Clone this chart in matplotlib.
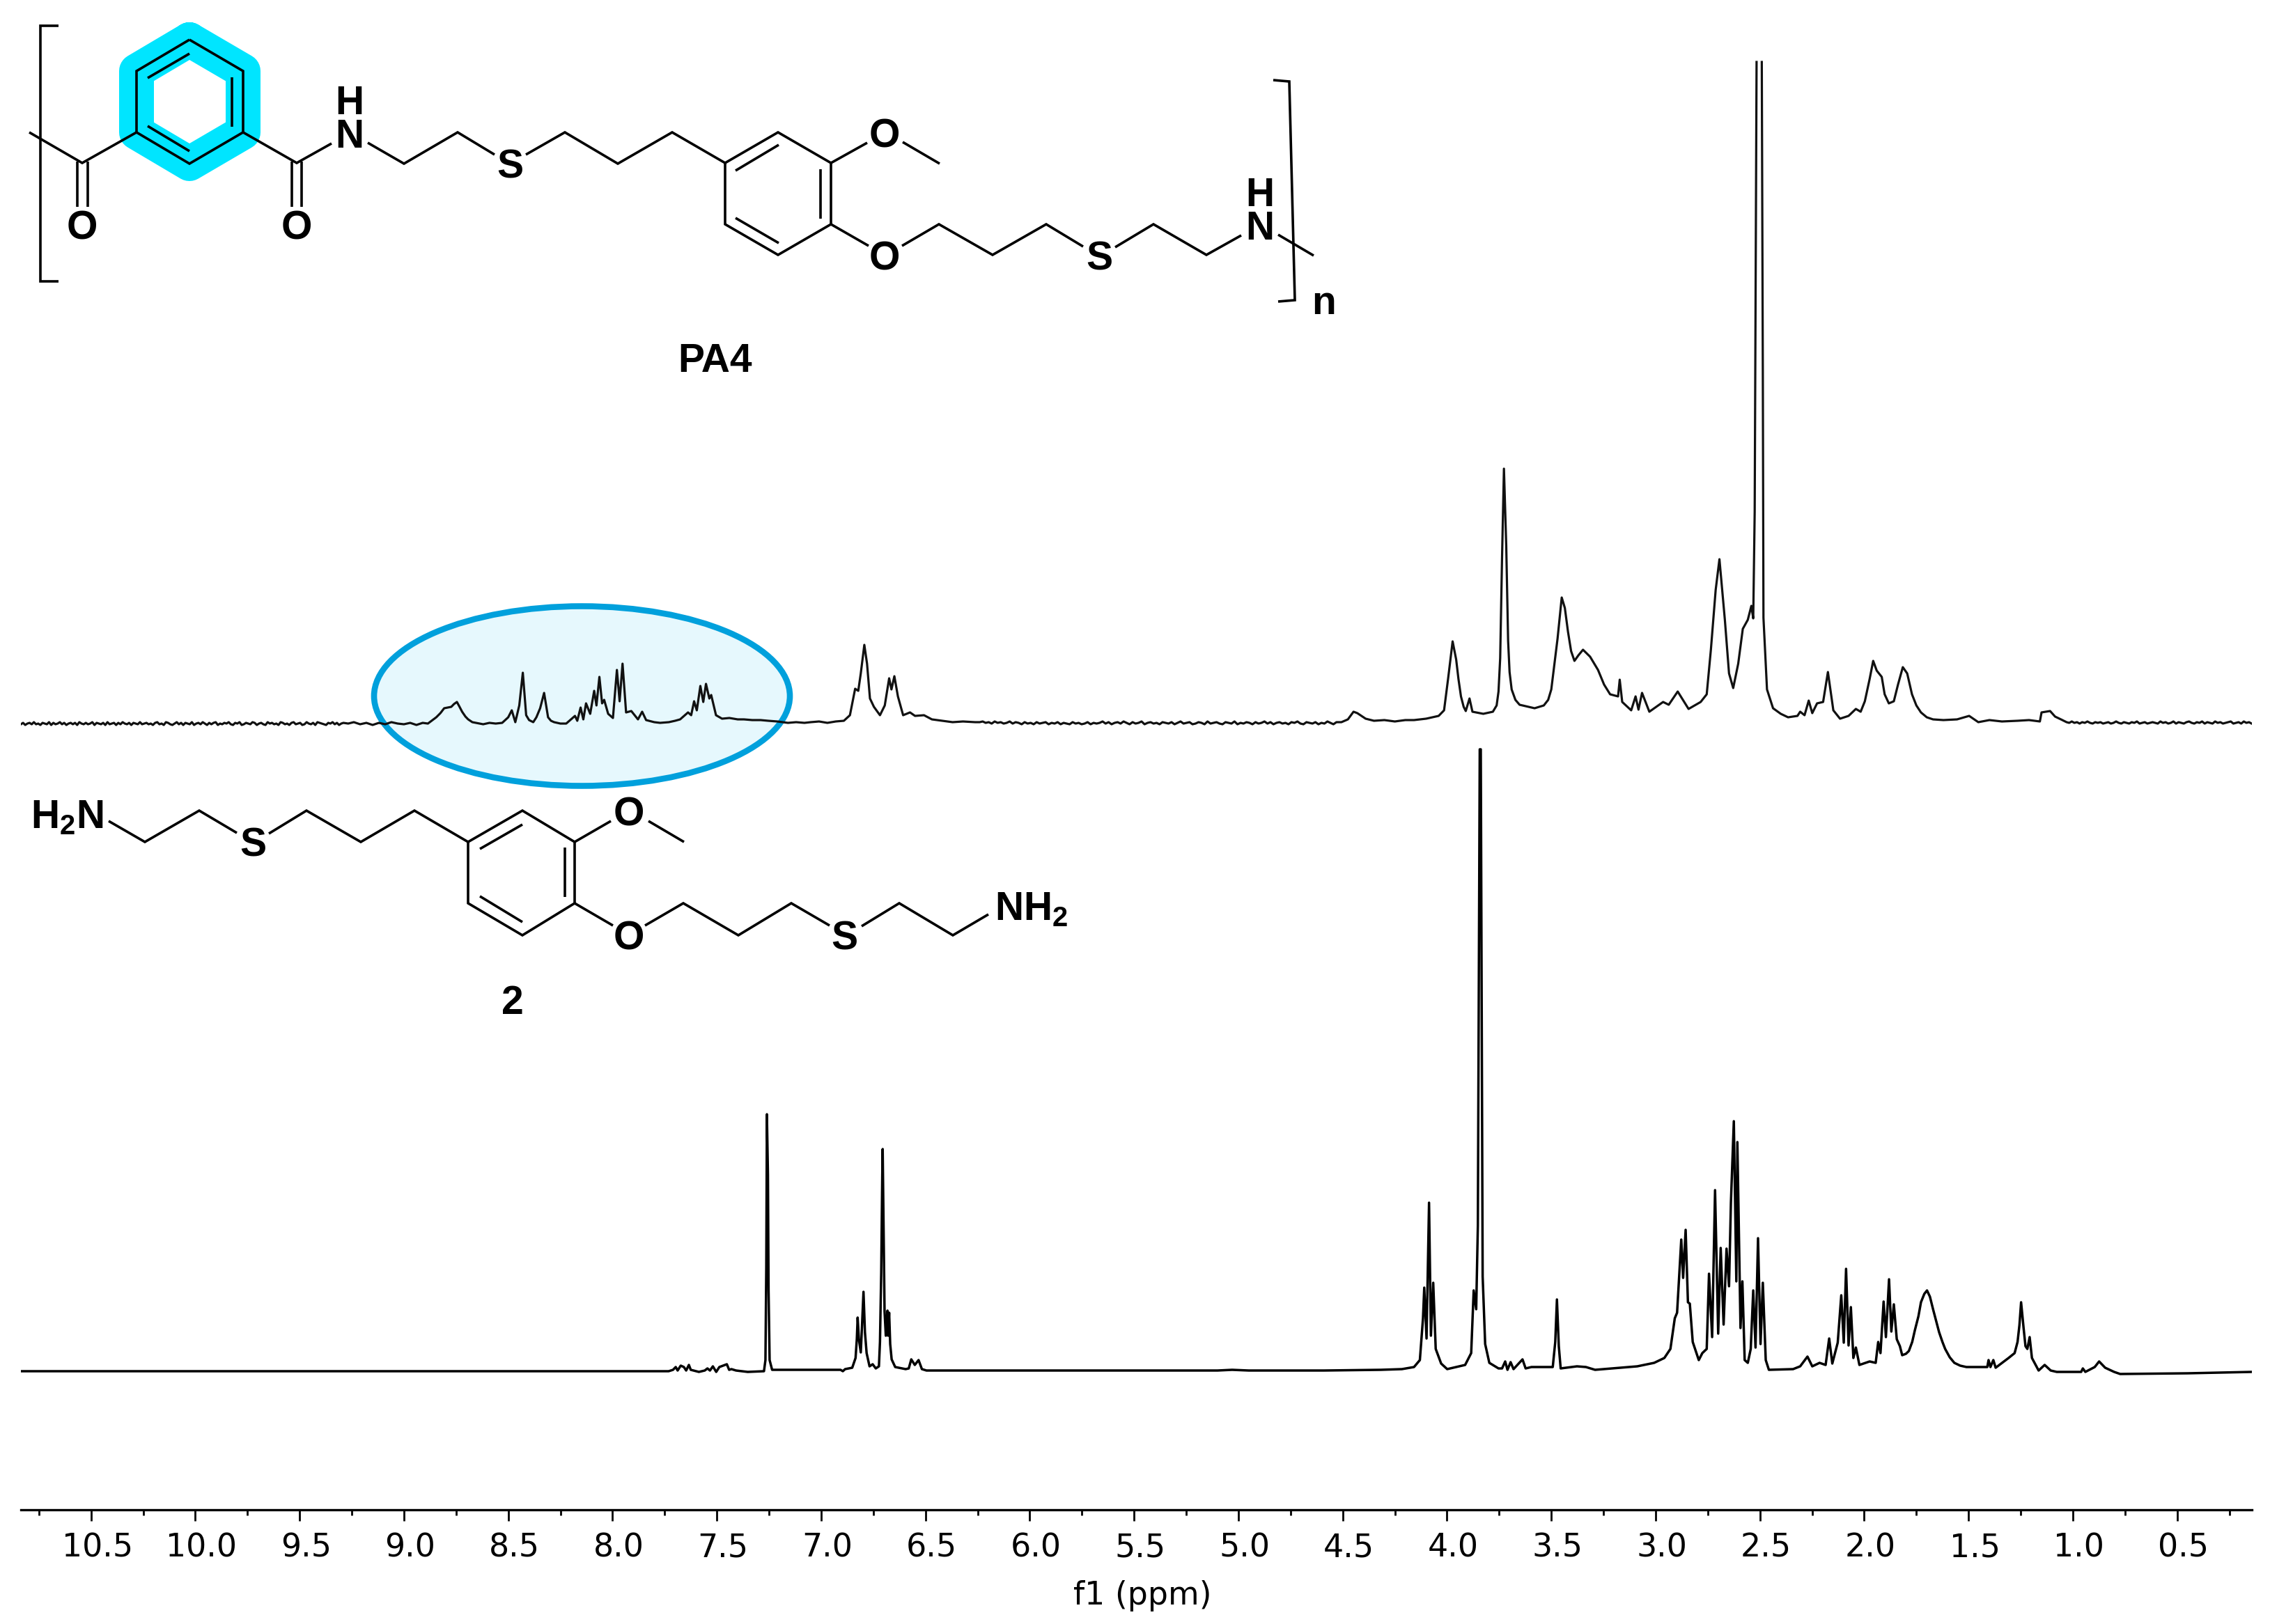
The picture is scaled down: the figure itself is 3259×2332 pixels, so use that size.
#!/usr/bin/env python3
"""1H NMR stack: PA4 (top) and diamine 2 (bottom), with the two structures drawn on top."""

import numpy as np
import matplotlib
matplotlib.use("Agg")
import matplotlib.pyplot as plt
from matplotlib.patches import Ellipse
from matplotlib.ticker import MultipleLocator
from matplotlib.transforms import ScaledTranslation

W, H = 3259, 2332
DPI = 100

# --- spectra. heights are in image pixels above each baseline ---
# PA4, flat noisy stretches (ppm positions are an even grid over the stretch)
top_noise_left = [-1, 1, -2, 0, 1, -1, 2, -1, 0, -2, 1, 0, -1, 2, -2, 1, -1, 0, 2, -1,
                  1, -2, 0, 1, -1, 1, -2, 2, 0, -1, 1, -1, 0, 2, -2, 1, 0, -1, 1, -2,
                  2, -1, 0, 1, -2, 1, -1, 2, 0, -1, 1, -2, 1, 0, -1, 2, -1, 0, 1, -1,
                  0, -2, 1, 2, -1, 0, -2, 2, 1, -1, -2, 0, 2, -1, 1, -2, 1, 0, -1, 2,
                  -2, 0, 1, -1, 2, 0, -2, 1, -1, 1, 2, -2, 0, -1, 1, 0, 2, -1, -2, 1,
                  0, 2, -2, -1, 1, 0, -1, 2, 1, -2, 0, 1, -1, -2, 2, 0, 1, -1, 0, -2,
                  2, 1, -1, 0, -2, 1, 2, -1, 0, 1, -2, -1, 2, 0, -1, 1, -2, 2, 1, 0,
                  -1, -2, 1, 0, 2, -1, 1, -2, 0, 1]
top_noise_mid = [2, 3, 1, 2, 0, 3, 1, 2, 0, 1, 3, 0, 2, 1, -1, 2, 0, 1, -1, 2,
                 0, 1, 2, -1, 1, 0, 2, -1, 1, 0, -1, 2, 0, 1, -1, 0, 2, -1, 1, 0,
                 1, 3, 0, 2, -1, 1, 2, 0, 3, 1, -1, 2, 0, 1, 3, -1, 1, 2, 0, 1,
                 -1, 2, 1, 0, 2, -1, 1, 3, 0, 1, 2, -1, 0, 2, 1, -1, 3, 0, 1, 2,
                 0, -1, 2, 1, 0, 3, -1, 1, 0, 2, 1, -1, 2, 0, 1, 3, 0, 2, -1, 1,
                 2, 0, 1, -1, 2, 1, 3, 0, -1, 2, 1, 0, 2, -1, 1, 0, 3, 1, -1, 2]
top_noise_right = [-2, -3, -1, -3, -2, -4, -2, -3, -1, -3, -4, -2, -3, -2, -4, -3, -2, -4, -3, -1,
                   -3, -4, -2, -3, -4, -2, -3, -1, -4, -3, -2, -4, -3, -2, -3, -4,
                   -1, -3, -2, -4, -3, -1, -4, -2, -3, -4, -2, -1, -3, -4, -2, -3, -1, -4,
                   -2, -3, -4, -1, -3, -2, -4, -3, -2, -1, -4, -3, -2, -4, -1, -3, -2, -4]

# PA4, aromatic amide region (baseline y=1039 px)
top_arom_ppm = [9.267, 9.24, 9.21, 9.18, 9.15, 9.12, 9.09, 9.06, 9.03, 9.00, 8.97, 8.94, 8.91, 8.885, 8.845,
                8.825, 8.807, 8.79, 8.773, 8.76, 8.746, 8.735, 8.721, 8.705, 8.692, 8.672, 8.654, 8.62, 8.59, 8.56,
                8.529, 8.50, 8.483, 8.466, 8.447, 8.43, 8.414, 8.40, 8.38, 8.365, 8.347, 8.328, 8.309, 8.295, 8.28,
                8.25, 8.222, 8.203, 8.18, 8.169, 8.153, 8.14, 8.127, 8.107, 8.088, 8.077, 8.063, 8.05, 8.04, 8.021,
                7.998, 7.979, 7.966, 7.952, 7.935, 7.91, 7.878, 7.858, 7.839, 7.80, 7.772, 7.73, 7.70, 7.676, 7.638,
                7.623, 7.609, 7.596, 7.579, 7.565, 7.552, 7.536, 7.527, 7.504, 7.475, 7.44, 7.40, 7.37, 7.33, 7.29,
                7.254, 7.21, 7.159, 7.12, 7.08, 7.05, 7.01, 6.97, 6.93, 6.891, 6.862, 6.837, 6.822, 6.81, 6.793,
                6.78, 6.766, 6.747, 6.718, 6.695, 6.674, 6.663, 6.649, 6.632, 6.607, 6.574, 6.55, 6.507, 6.469,
                6.42, 6.37, 6.32, 6.262]
top_arom_h = [0, 2, -1, 1, -2, 1, -1, 2, 0, -1, 1, -2, 1, 0, 9,
              15, 22, 23, 24, 28, 31, 25, 17, 10, 6, 2, 1, -1, 1, 0,
              1, 9, 19, 2, 26, 73, 12, 5, 2, 9, 22, 44, 9, 4, 2,
              0, 0, 5, 11, 4, 23, 6, 29, 14, 47, 26, 67, 29, 34, 14,
              8, 77, 32, 86, 16, 18, 6, 17, 5, 2, 1, 2, 4, 6, 16,
              12, 32, 19, 54, 31, 57, 36, 41, 12, 7, 8, 6, 6, 5, 5,
              4, 3, 1, 2, 1, 2, 3, 1, 3, 4, 12, 50, 47, 72, 113,
              86, 36, 24, 12, 26, 65, 49, 68, 39, 12, 16, 11, 12, 6,
              4, 2, 3, 2]

# PA4, aliphatic region (baseline y=1035 px); the DMSO peak runs off the scale, hence the gap
top_alip_ppm = [4.506, 4.475, 4.448, 4.43, 4.39, 4.35, 4.30, 4.25, 4.20, 4.158, 4.10, 4.04, 4.014, 3.994, 3.973, 3.956,
                3.945, 3.933, 3.92, 3.91, 3.892, 3.878, 3.826, 3.78, 3.762, 3.753, 3.745, 3.736, 3.727, 3.716, 3.707,
                3.70, 3.69, 3.672, 3.652, 3.58, 3.536, 3.515, 3.50, 3.47, 3.45, 3.435, 3.42, 3.405, 3.389, 3.37, 3.348,
                3.314, 3.276, 3.247, 3.218, 3.18, 3.172, 3.16, 3.117, 3.096, 3.082, 3.065, 3.03, 2.964, 2.937, 2.894,
                2.842, 2.784, 2.755, 2.735, 2.712, 2.694, 2.668, 2.648, 2.628, 2.604, 2.582,
                2.558, 2.541, 2.532, 2.525, 2.516, np.nan, 2.491, 2.486, 2.483, 2.466, 2.437, 2.40, 2.365,
                2.32, 2.307, 2.286, 2.266, 2.249, 2.226, 2.197, 2.174, 2.148, 2.116, 2.075, 2.04,
                2.017, 1.997, 1.974, 1.957, 1.94, 1.916, 1.902, 1.882, 1.858, 1.838, 1.815, 1.794,
                1.771, 1.75, 1.728, 1.70, 1.67, 1.62, 1.555, 1.497, 1.453, 1.40, 1.34, 1.265, 1.21, 1.158, 1.15,
                1.13, 1.109, 1.085, 1.057]
top_alip_h = [-2, 2, 13, 11, 3, 0, 1, -1, 1, 1, 3, 7, 15, 62, 114, 88,
              60, 35, 20, 14, 32, 13, 10, 13, 22, 42, 90, 235, 362, 252, 115,
              70, 45, 30, 23, 18, 22, 30, 45, 118, 177, 162, 128, 100, 86, 94, 102,
              92, 73, 52, 38, 35, 59, 27, 15, 35, 16, 40, 13, 27, 23, 42,
              17, 27, 38, 102, 188, 232, 145, 68, 47, 82, 132,
              145, 165, 147, 300, 946, np.nan, 946, 500, 148, 45, 18, 10, 5,
              7, 13, 8, 29, 11, 25, 27, 70, 15, 3, 7, 17,
              13, 28, 60, 86, 72, 63, 38, 25, 28, 52, 77, 68,
              38, 22, 12, 5, 2, 1, 2, 7, -2, 1, -1, 0, 1, -1, 12,
              13, 14, 6, 2]

# diamine 2, aromatic region + CHCl3 (baseline y=1970 px)
bot_arom_ppm = [10.836, 9.5, 8.5, 7.931, 7.731, 7.71, 7.697, 7.688, 7.673, 7.658, 7.647, 7.634, 7.625, 7.586,
                7.558, 7.545, 7.533, 7.519, 7.503, 7.488, 7.452, 7.441, 7.43, 7.408, 7.352, 7.274,
                7.267, 7.263, 7.26, 7.255, 7.252, 7.247, 7.235, 6.907, 6.896, 6.885, 6.851, 6.835,
                6.829, 6.825, 6.819, 6.81, 6.804, 6.797, 6.79, 6.782, 6.768, 6.753, 6.738, 6.723,
                6.718, 6.712, 6.707, 6.705, 6.70, 6.696, 6.69, 6.682, 6.679, 6.674, 6.669, 6.662,
                6.645, 6.595, 6.58, 6.568, 6.551, 6.533, 6.517, 6.495, 6.262]
bot_arom_h = [1, 1, 1, 1, 1, 3, 7, 2, 9, 7, 2, 10, 3, 0,
              2, 5, 2, 8, 0, 7, 11, 3, 4, 2, 0, 1,
              17, 150, 370, 283, 117, 17, 3, 3, 1, 4, 6, 20,
              47, 78, 47, 28, 67, 115, 57, 27, 8, 11, 5, 8,
              43, 143, 283, 320, 187, 87, 52, 88, 52, 85, 40, 18,
              7, 4, 5, 18, 10, 17, 4, 2, 2]

# diamine 2, aliphatic region (baseline y=1970 px)
bot_alip_ppm = [5.10, 5.03, 4.95, 4.59, 4.318, 4.216, 4.158, 4.13, 4.115, 4.109, 4.098, 4.086, 4.077, 4.066, 4.054,
                4.028, 3.999, 3.913, 3.884, 3.872, 3.86, 3.852, 3.843, 3.838, 3.829, 3.817, 3.797,
                3.753, 3.736, 3.721, 3.71, 3.695, 3.681, 3.638, 3.623, 3.595, 3.493, 3.481, 3.473,
                3.464, 3.455, 3.377, 3.334, 3.29, 3.088, 3.007, 2.958, 2.929, 2.908, 2.897, 2.877,
                2.868, 2.856, 2.845, 2.836, 2.822, 2.793, 2.776, 2.755, 2.744, 2.729, 2.715, 2.70,
                2.688, 2.674, 2.66, 2.648, 2.639, 2.625, 2.613, 2.608, 2.593, 2.584, 2.573, 2.558,
                2.544, 2.532, 2.521, 2.509, 2.497, 2.486, 2.472, 2.457, 2.341, 2.307, 2.272, 2.249,
                2.214, 2.185, 2.168, 2.153, 2.127, 2.11, 2.098, 2.087, 2.075, 2.064, 2.052, 2.04,
                2.023, 1.974, 1.945, 1.933, 1.922, 1.907, 1.896, 1.881, 1.87, 1.858, 1.844, 1.829,
                1.818, 1.80, 1.786, 1.77, 1.757, 1.74, 1.728, 1.712, 1.699, 1.685, 1.67, 1.655, 1.641, 1.625, 1.612,
                1.59, 1.568, 1.54, 1.51, 1.41, 1.404,
                1.395, 1.381, 1.37, 1.308, 1.279, 1.265, 1.256, 1.248, 1.236, 1.227, 1.218, 1.207,
                1.196, 1.164, 1.135, 1.106, 1.077, 0.96, 0.952, 0.94, 0.895, 0.874, 0.845, 0.802,
                0.773, 0.45, 0.143]
bot_alip_h = [2, 3, 2, 2, 3, 4, 7, 17, 77, 121, 48, 243, 52, 128, 33,
              12, 4, 10, 27, 117, 90, 210, 894, 894, 137, 40, 13,
              5, 5, 15, 3, 14, 4, 18, 5, 7, 7, 43, 104,
              37, 5, 8, 7, 3, 8, 13, 20, 33, 77, 85, 190,
              135, 204, 100, 98, 43, 17, 27, 33, 141, 50, 261, 55,
              178, 68, 177, 123, 243, 360, 130, 330, 63, 130, 17, 13,
              33, 117, 35, 192, 40, 128, 17, 3, 4, 8, 22, 8,
              13, 10, 48, 12, 42, 110, 42, 148, 38, 93, 20, 35,
              10, 15, 13, 43, 27, 101, 50, 133, 58, 97, 47, 37,
              24, 26, 30, 43, 60, 80, 100, 112, 117, 108, 90, 73, 57, 43, 33,
              21, 13, 9, 7, 7, 17,
              7, 17, 6, 20, 27, 43, 67, 100, 63, 37, 33, 50,
              20, 2, 10, 2, 0, 0, 5, 0, 7, 15, 6, 0,
              -3, -2, 0]

top_baseline_left = 1039
top_baseline_right = 1035
bot_baseline = 1970

# axis
major_step = 0.5
minor_step = 0.25
x_left, x_right = 10.836, 0.143
axis_y = 2168
axis_x0, axis_x1 = 30, 3232.6

# --- structure drawing, image pixels ---
LINE_BLACK = "#000000"
RING_CYAN = "#00E5FF"
OVAL_BLUE = "#00A0DC"
OVAL_FILL = "#E6F8FD"

pa4_lines = [
    [(272, 57), (349, 102), (349, 190), (272, 235), (196, 190), (196, 102), (272, 57)],
    [(212, 112), (272, 77)], [(333, 111), (333, 182)], [(212, 181), (272, 217)],
    [(42, 190), (118, 234), (196, 190)],
    [(111, 232), (111, 297)], [(126, 232), (126, 297)],
    [(349, 190), (426, 234), (476, 206)],
    [(419, 232), (419, 297)], [(433, 232), (433, 297)],
    [(528, 205), (580, 235), (657, 190), (710, 222)],
    [(755, 222), (811, 190), (887, 235), (965, 190), (1041, 234)],
    [(1041, 234), (1117, 190), (1193, 234), (1193, 322), (1117, 366), (1041, 322), (1041, 234)],
    [(1056, 245), (1118, 208)], [(1178, 243), (1178, 314)], [(1056, 313), (1118, 349)],
    [(1193, 234), (1245, 205)], [(1296, 204), (1349, 235)],
    [(1193, 322), (1247, 353)],
    [(1295, 353), (1348, 322), (1425, 366), (1502, 322), (1555, 354)],
    [(1601, 355), (1656, 322), (1732, 366), (1782, 338)],
    [(1835, 337), (1886, 367)],
    [(84, 37), (58, 37), (58, 404), (84, 404)],
    [(1828, 115), (1851, 117), (1859, 431), (1835, 433)],
]
pa4_labels = [("O", 118, 329), ("O", 426, 329), ("N", 502, 197), ("H", 502, 149), ("S", 732, 241),
              ("O", 1270, 197), ("O", 1270, 373), ("S", 1578, 373), ("N", 1809, 329), ("H", 1809, 281),
              ("n", 1900, 436), ("PA4", 1026, 519)]

diamine_lines = [
    [(156, 1179), (208, 1209), (286, 1164), (340, 1196)],
    [(386, 1197), (440, 1164), (518, 1209), (595, 1164), (672, 1209)],
    [(672, 1209), (750, 1164), (825, 1209), (825, 1297), (750, 1343), (672, 1297), (672, 1209)],
    [(689, 1219), (750, 1184)], [(811, 1217), (811, 1288)], [(689, 1287), (750, 1324)],
    [(825, 1209), (877, 1179)], [(931, 1179), (982, 1209)],
    [(825, 1297), (880, 1329)],
    [(926, 1329), (981, 1297), (1060, 1343), (1136, 1297), (1191, 1329)],
    [(1237, 1330), (1291, 1297), (1368, 1343), (1419, 1313)],
]
diamine_labels = [("S", 363, 1215), ("O", 903, 1171), ("O", 903, 1348), ("S", 1212, 1348), ("2", 736, 1441)]

plt.rcParams["mathtext.fontset"] = "custom"
plt.rcParams["mathtext.bf"] = "Liberation Sans:bold"
plt.rcParams["mathtext.rm"] = "Liberation Sans:bold"

fig = plt.figure(figsize=(W / DPI, H / DPI), dpi=DPI, facecolor="white")

# structures and the oval sit underneath, in pixel coordinates
ax_chem = fig.add_axes([0, 0, 1, 1], zorder=0)
ax_chem.set_xlim(0, W)
ax_chem.set_ylim(H, 0)
ax_chem.axis("off")

ring = pa4_lines[0]
ax_chem.plot([p[0] for p in ring], [p[1] for p in ring], color=RING_CYAN, lw=36,
             solid_joinstyle="round", solid_capstyle="round", zorder=1)
ax_chem.add_patch(Ellipse((835.5, 999.5), 597, 258, facecolor=OVAL_FILL, edgecolor=OVAL_BLUE,
                          lw=6.2, zorder=1))

for seg in pa4_lines + diamine_lines:
    ax_chem.plot([p[0] for p in seg], [p[1] for p in seg], color=LINE_BLACK, lw=2.6,
                 solid_joinstyle="miter", solid_capstyle="butt", zorder=2)
for txt, x, y in pa4_labels + diamine_labels:
    ax_chem.text(x, y, txt, ha="center", va="center", fontsize=41, fontweight="bold",
                 family="Liberation Sans", color=LINE_BLACK, zorder=3)
ax_chem.text(96, 1173, r"$\mathbf{H_2N}$", ha="center", va="center", fontsize=41, color=LINE_BLACK, zorder=3)
ax_chem.text(1481, 1306, r"$\mathbf{NH_2}$", ha="center", va="center", fontsize=41, color=LINE_BLACK, zorder=3)

# spectra on a real ppm axis; y is pixels above the axis line
ax = fig.add_axes([axis_x0 / W, (H - axis_y) / H, (axis_x1 - axis_x0) / W, axis_y / H], zorder=1)
ax.patch.set_visible(False)
ax.set_xlim(x_left, x_right)
ax.set_ylim(0, axis_y)

top_ppm = np.concatenate([np.linspace(x_left, 9.29, len(top_noise_left)), top_arom_ppm,
                          np.linspace(6.24, 4.53, len(top_noise_mid)), top_alip_ppm,
                          np.linspace(1.03, 0.143, len(top_noise_right))])
top_y = np.concatenate([axis_y - top_baseline_left + np.array(top_noise_left, float),
                        axis_y - top_baseline_left + np.array(top_arom_h, float),
                        axis_y - top_baseline_left + np.array(top_noise_mid, float),
                        axis_y - top_baseline_right + np.array(top_alip_h, float),
                        axis_y - top_baseline_right + np.array(top_noise_right, float)])
bot_ppm = np.concatenate([bot_arom_ppm, bot_alip_ppm])
bot_y = axis_y - bot_baseline + np.array(bot_arom_h + bot_alip_h, float)

ax.plot(top_ppm, top_y, color="#111111", lw=2.3, solid_joinstyle="round")
ax.plot(bot_ppm, bot_y, color="#000000", lw=2.5, solid_joinstyle="round")

for side in ("left", "right", "top"):
    ax.spines[side].set_visible(False)
ax.spines["bottom"].set_linewidth(2.4)
ax.yaxis.set_visible(False)
ax.xaxis.set_major_locator(MultipleLocator(major_step))
ax.xaxis.set_minor_locator(MultipleLocator(minor_step))
ax.xaxis.set_major_formatter(plt.FormatStrFormatter("%.1f"))
ax.tick_params(axis="x", which="major", length=11.5, width=2.0, labelsize=33, pad=12)
ax.tick_params(axis="x", which="minor", length=6, width=2.0)

# tick labels in the original sit about 9 px to the right of their ticks
nudge = ScaledTranslation(9 / DPI, 0, fig.dpi_scale_trans)
for lab in ax.get_xticklabels():
    lab.set_transform(lab.get_transform() + nudge)

ax.set_xlabel("f1 (ppm)", fontsize=33, labelpad=16)
ax.xaxis.set_label_coords((1640 - axis_x0) / (axis_x1 - axis_x0), -0.0465)

fig.savefig("out.png", dpi=DPI)
